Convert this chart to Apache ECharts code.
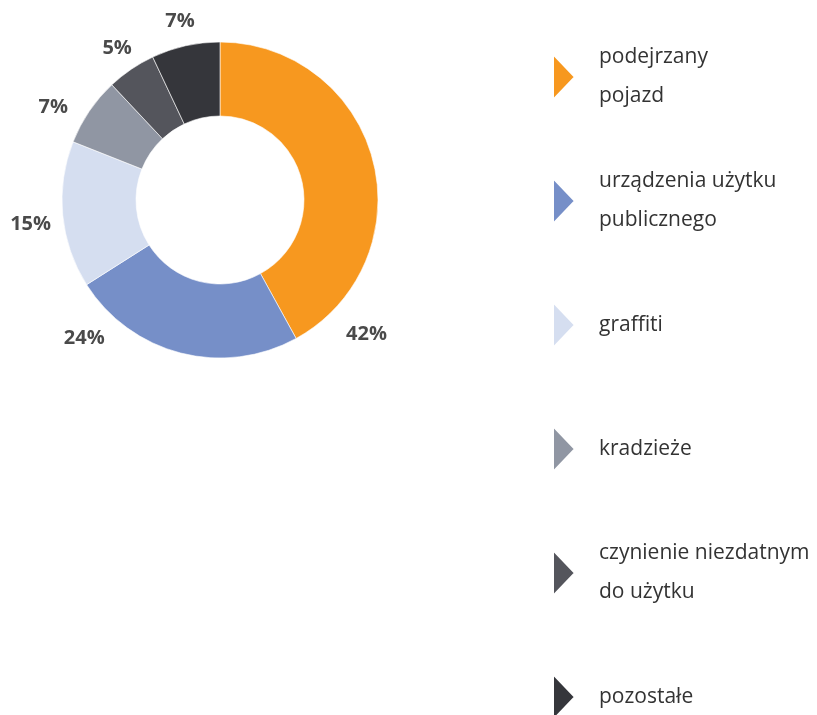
<!DOCTYPE html>
<html>
<head>
<meta charset="utf-8">
<script src="https://cdn.jsdelivr.net/npm/echarts@6/dist/echarts.min.js"></script>
<style>
  html, body { margin: 0; padding: 0; background: #fff; }
  #chart { width: 817px; height: 715px; }
</style>
</head>
<body>
<div id="chart"></div>
<script>
// dane
const categories = [
  'podejrzany\npojazd',
  'urządzenia użytku\npublicznego',
  'graffiti',
  'kradzieże',
  'czynienie niezdatnym\ndo użytku',
  'pozostałe'
]
const values = [42, 24, 15, 7, 5, 7]
const colors = ['#F7981F', '#768FC8', '#D5DEF0', '#9096A3', '#54555C', '#35363B']

// układ
const cx = 220
const cy = 200
const labelRadius = [199, 194, 191, 191, 183, 183]
const labelShift = [57, 30, -2, -5, 0, 0] // stopnie, ręczne przesunięcie etykiet

const myChart = echarts.init(document.getElementById('chart'))

const total = values.reduce((a, b) => a + b, 0)
const midAngles = []
let acc = 0
values.forEach(v => {
  midAngles.push((acc + v / 2) / total * 360)
  acc += v
})

const option = {
  backgroundColor: '#fff',
  animation: false,
  color: colors,
  legend: {
    orient: 'vertical',
    left: 552,
    top: 38,
    height: 760,
    padding: 0,
    itemWidth: 22,
    itemHeight: 46,
    itemGap: 46,
    icon: 'path://M0,0 L1,0.5 L0,1 Z',
    symbolKeepAspect: false,
    selectedMode: false,
    textStyle: {
      fontFamily: 'Open Sans',
      fontSize: 21,
      color: '#333',
      lineHeight: 39,
      height: 78,
      padding: [0, 0, 0, 19]
    }
  },
  series: [
    {
      type: 'pie',
      center: [cx, cy],
      radius: [84, 158],
      startAngle: 90,
      clockwise: true,
      avoidLabelOverlap: false,
      itemStyle: {
        borderColor: '#fff',
        borderWidth: 0.6
      },
      label: {
        show: true,
        position: 'outside',
        formatter: '{c}%',
        fontFamily: 'Open Sans',
        fontWeight: 'bold',
        fontSize: 20,
        color: '#4a4a4a'
      },
      labelLine: { show: false },
      labelLayout: function (params) {
        const i = params.dataIndex
        const a = (midAngles[i] + labelShift[i]) * Math.PI / 180
        return {
          x: cx + labelRadius[i] * Math.sin(a),
          y: cy - labelRadius[i] * Math.cos(a),
          align: 'center',
          verticalAlign: 'middle'
        }
      },
      emphasis: { disabled: true },
      data: categories.map((name, i) => ({ name: name, value: values[i] }))
    }
  ]
}

myChart.setOption(option)
</script>
</body>
</html>
